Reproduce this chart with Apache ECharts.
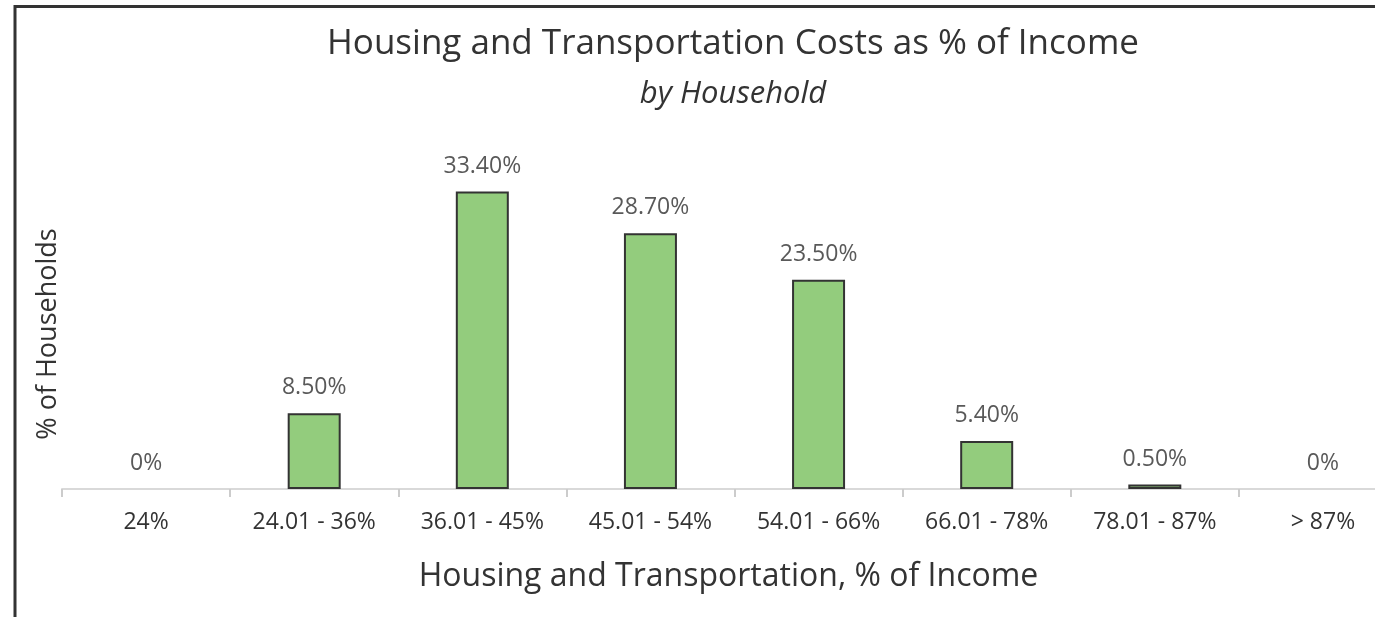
<!DOCTYPE html>
<html>
<head>
<meta charset="utf-8">
<script src="https://cdn.jsdelivr.net/npm/echarts@6/dist/echarts.min.js"></script>
<style>
  html, body { margin: 0; padding: 0; background: #fff; }
  #chart { width: 1375px; height: 617px; }
</style>
</head>
<body>
<div id="chart"></div>
<script>
// categories on the x axis
var categories = ['24%', '24.01 - 36%', '36.01 - 45%', '45.01 - 54%', '54.01 - 66%', '66.01 - 78%', '78.01 - 87%', '> 87%'];
// share of households, %
var households = [0, 8.5, 33.4, 28.7, 23.5, 5.4, 0.5, 0];
// labels printed above the bars
var barLabels = ['0%', '8.50%', '33.40%', '28.70%', '23.50%', '5.40%', '0.50%', '0%'];

var chart = echarts.init(document.getElementById('chart'));
var font = '"Open Sans", sans-serif';

// zero bars get no outline, like in the original
var barData = households.map(function (v) {
    return v === 0 ? { value: v, itemStyle: { borderWidth: 0 } } : v;
});

var option = {
    animation: false,
    title: [{
        text: 'Housing and Transportation Costs as % of Income',
        left: 728,
        top: 22,
        textAlign: 'center',
        textStyle: { fontFamily: font, fontSize: 35, fontWeight: 'normal', color: '#333' }
    }, {
        text: 'by Household',
        left: 728,
        top: 74,
        textAlign: 'center',
        textStyle: { fontFamily: font, fontSize: 31, fontStyle: 'italic', fontWeight: 'normal', color: '#333' }
    }],
    grid: {
        left: 62,
        width: 1345,
        top: 179,
        bottom: 128,
        containLabel: false,
        outerBoundsMode: 'none'
    },
    xAxis: {
        type: 'category',
        data: categories,
        name: 'Housing and Transportation, % of Income',
        nameLocation: 'middle',
        nameGap: 72,
        nameTextStyle: { fontFamily: font, fontSize: 32, color: '#333', padding: [0, 0, 0, -12] },
        axisLine: { lineStyle: { color: '#d9d9d9', width: 2 } },
        axisTick: { show: true, alignWithLabel: false, interval: 0, length: 8, lineStyle: { color: '#cccccc', width: 2 } },
        axisLabel: { fontFamily: font, fontSize: 23, color: '#333', margin: 22 }
    },
    yAxis: {
        type: 'value',
        min: 0,
        max: 34.8,
        name: '% of Households',
        nameLocation: 'middle',
        nameGap: 0,
        nameTextStyle: { fontFamily: font, fontSize: 27, color: '#333' },
        axisLine: { show: false },
        axisTick: { show: false },
        axisLabel: { show: false },
        splitLine: { show: false }
    },
    graphic: [{
        type: 'polyline',
        shape: { points: [[15, 617], [15, 6.5], [1375, 6.5]] },
        style: { stroke: '#333', lineWidth: 3, fill: null }
    }],
    series: [{
        type: 'bar',
        data: barData,
        barWidth: 53,
        itemStyle: { color: '#93cc7d', borderColor: '#333', borderWidth: 2 },
        label: {
            show: true,
            position: 'top',
            distance: 14,
            fontFamily: font,
            fontSize: 23,
            color: '#595959',
            formatter: function (p) { return barLabels[p.dataIndex]; }
        }
    }]
};

chart.setOption(option);
</script>
</body>
</html>
